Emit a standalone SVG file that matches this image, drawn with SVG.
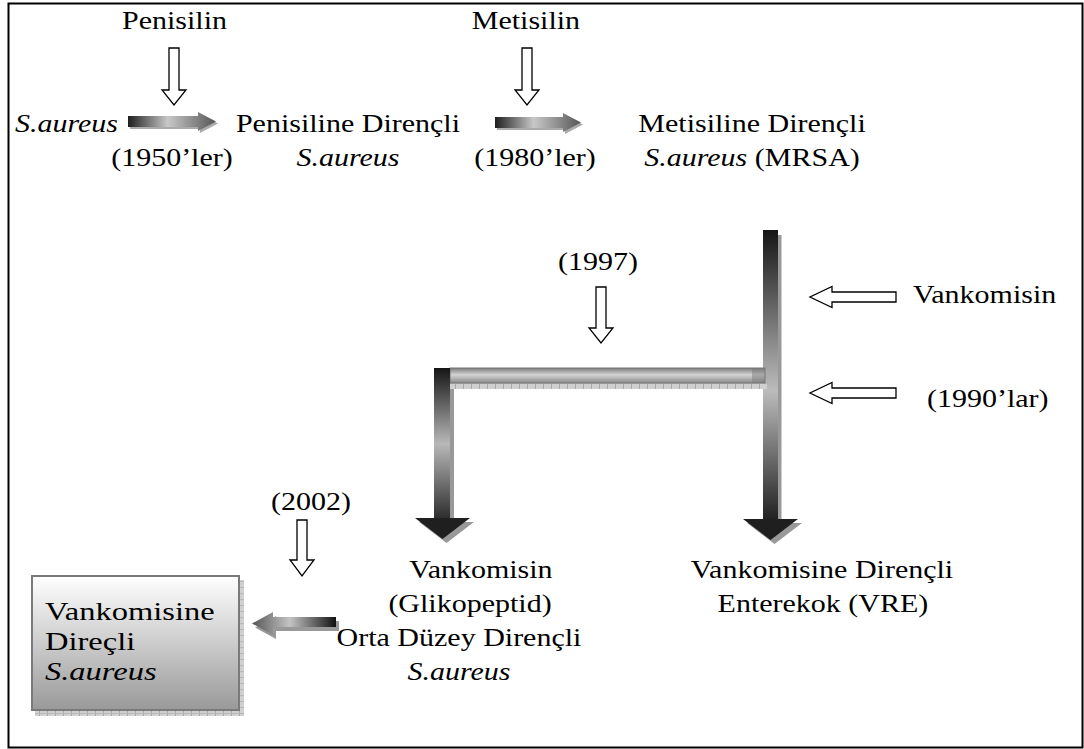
<svg xmlns="http://www.w3.org/2000/svg" width="1084" height="749" viewBox="0 0 1084 749">
<style>
.t{font-family:"Liberation Serif","Times New Roman",serif;font-size:25px;fill:#000}
.i{font-style:italic}
.m{text-anchor:middle}
.hol{fill:#fff;stroke:#000;stroke-width:1.3}
</style>
<defs>
<linearGradient id="gh" x1="0" y1="0" x2="1" y2="0">
<stop offset="0" stop-color="#1e1e1e"/><stop offset="0.45" stop-color="#c8c8c8"/><stop offset="1" stop-color="#555"/>
</linearGradient>
<linearGradient id="ghl" x1="0" y1="0" x2="1" y2="0">
<stop offset="0" stop-color="#555"/><stop offset="0.45" stop-color="#c4c4c4"/><stop offset="1" stop-color="#111"/>
</linearGradient>
<linearGradient id="gvl" x1="0" y1="0" x2="0" y2="1">
<stop offset="0" stop-color="#151515"/><stop offset="0.5" stop-color="#b8b8b8"/><stop offset="1" stop-color="#2a2a2a"/>
</linearGradient>
<linearGradient id="gvr" x1="0" y1="0" x2="0" y2="1">
<stop offset="0" stop-color="#151515"/><stop offset="0.55" stop-color="#bcbcbc"/><stop offset="1" stop-color="#1e1e1e"/>
</linearGradient>
<linearGradient id="gbar" x1="0" y1="0" x2="0" y2="1">
<stop offset="0" stop-color="#7a7a7a"/><stop offset="0.45" stop-color="#d4d4d4"/><stop offset="1" stop-color="#8a8a8a"/>
</linearGradient>
<linearGradient id="gbox" x1="0" y1="0" x2="0" y2="1">
<stop offset="0" stop-color="#ffffff"/><stop offset="1" stop-color="#999"/>
</linearGradient>
<pattern id="hatch" width="8" height="6" patternUnits="userSpaceOnUse">
<rect width="8" height="6" fill="#d0d0d0"/><rect x="7" width="1" height="6" fill="#a8a8a8"/><rect y="5" width="8" height="1" fill="#b8b8b8"/>
</pattern>
</defs>
<rect x="8.5" y="3.5" width="1074" height="744" fill="#fff" stroke="#000" stroke-width="2"/>

<g id="connectors">
<path class="hol" d="M169,48 H179 V90 H186 L174,105 L162,90 H169 Z"/>
<path class="hol" d="M522,48 H532 V90 H539 L527,105 L515,90 H522 Z"/>
<path class="hol" d="M596,287 H606 V328 H613 L601,343 L589,328 H596 Z"/>
<path class="hol" d="M297,520 H307 V560 H314 L302,576 L290,560 H297 Z"/>
<path class="hol" d="M896,292 V302 H832 V307.5 L810,297 L832,286.5 V292 Z"/>
<path class="hol" d="M896,388 V398 H832 V403.5 L810,393 L832,382.5 V388 Z"/>
<path d="M130,118 H200 V114 L218,123.5 L200,133 V129 H130 Z" fill="#aaa"/>
<path d="M128,116 H198 V112 L216,121.5 L198,131 V127 H128 Z" fill="url(#gh)"/>
<path d="M497,119 H565 V115 L583,124.5 L565,134 V130 H497 Z" fill="#aaa"/>
<path d="M495,117 H563 V113 L581,122.5 L563,132 V128 H495 Z" fill="url(#gh)"/>
<path d="M339,621 H276 V616 L255,627.5 L276,639 V631 H339 Z" fill="#999"/>
<path d="M336,617 H273 V612 L252,623.5 L273,635 V627 H336 Z" fill="url(#ghl)"/>
<rect x="778" y="235" width="3.5" height="287" fill="#999"/>
<rect x="763" y="230" width="15" height="292" fill="url(#gvr)"/>
<path d="M747,523 H802 L774.5,544 Z" fill="#999"/>
<path d="M743,519 H798 L770.5,540 Z" fill="#1f1f1f"/>
<rect x="450" y="383" width="317" height="6" fill="url(#hatch)"/>
<rect x="450" y="368" width="315" height="15" fill="url(#gbar)" stroke="#777" stroke-width="1"/>
<rect x="752" y="368" width="13" height="15" fill="#777" opacity="0.45"/>
<rect x="450" y="389" width="4" height="133" fill="#999"/>
<rect x="434" y="368" width="16" height="152" fill="url(#gvl)"/>
<path d="M419,522 H474 L446.5,543 Z" fill="#999"/>
<path d="M415,518 H470 L442.5,539 Z" fill="#1f1f1f"/>
</g>

<g id="node-penisilin"><text class="t m" transform="scale(1.2 1)" x="145.4" y="29">Penisilin</text></g>
<g id="node-metisilin"><text class="t m" transform="scale(1.2 1)" x="438.3" y="29">Metisilin</text></g>
<g id="node-saureus"><text class="t i" transform="scale(1.2 1)" x="12.5" y="132">S.aureus</text></g>
<g id="label-1950"><text class="t m" transform="scale(1.2 1)" x="143.3" y="166">(1950’ler)</text></g>
<g id="node-prsa">
<text class="t m" transform="scale(1.2 1)" x="290" y="132">Penisiline Dirençli</text>
<text class="t m i" transform="scale(1.2 1)" x="290" y="166">S.aureus</text>
</g>
<g id="label-1980"><text class="t m" transform="scale(1.2 1)" x="445.8" y="166">(1980’ler)</text></g>
<g id="node-mrsa">
<text class="t m" transform="scale(1.2 1)" x="626.7" y="132">Metisiline Dirençli</text>
<text class="t m" transform="scale(1.2 1)" x="626.7" y="166"><tspan class="i">S.aureus</tspan> (MRSA)</text>
</g>
<g id="label-1997"><text class="t m" transform="scale(1.2 1)" x="498.3" y="270">(1997)</text></g>
<g id="node-vankomisin"><text class="t" transform="scale(1.2 1)" x="760.8" y="303">Vankomisin</text></g>
<g id="label-1990"><text class="t" transform="scale(1.2 1)" x="772.5" y="407">(1990’lar)</text></g>
<g id="label-2002"><text class="t m" transform="scale(1.2 1)" x="259.2" y="510">(2002)</text></g>
<g id="node-visa">
<text class="t m" transform="scale(1.2 1)" x="400.8" y="578">Vankomisin</text>
<text class="t m" transform="scale(1.2 1)" x="391.7" y="612">(Glikopeptid)</text>
<text class="t m" transform="scale(1.2 1)" x="382.5" y="646">Orta Düzey Dirençli</text>
<text class="t m i" transform="scale(1.2 1)" x="382.5" y="680">S.aureus</text>
</g>
<g id="node-vre">
<text class="t m" transform="scale(1.2 1)" x="685" y="578">Vankomisine Dirençli</text>
<text class="t m" transform="scale(1.2 1)" x="685.8" y="612">Enterekok (VRE)</text>
</g>
<g id="node-vrsa">
<rect x="239" y="580" width="5" height="136" fill="url(#hatch)"/>
<rect x="35" y="710" width="209" height="6" fill="url(#hatch)"/>
<rect x="32" y="576" width="207" height="134" fill="url(#gbox)" stroke="#7a7a7a" stroke-width="2"/>
<text class="t" transform="scale(1.3 1)" x="34.6" y="620">Vankomisine</text>
<text class="t" transform="scale(1.3 1)" x="34.6" y="650">Direçli</text>
<text class="t i" transform="scale(1.3 1)" x="34.6" y="680">S.aureus</text>
</g>
</svg>
